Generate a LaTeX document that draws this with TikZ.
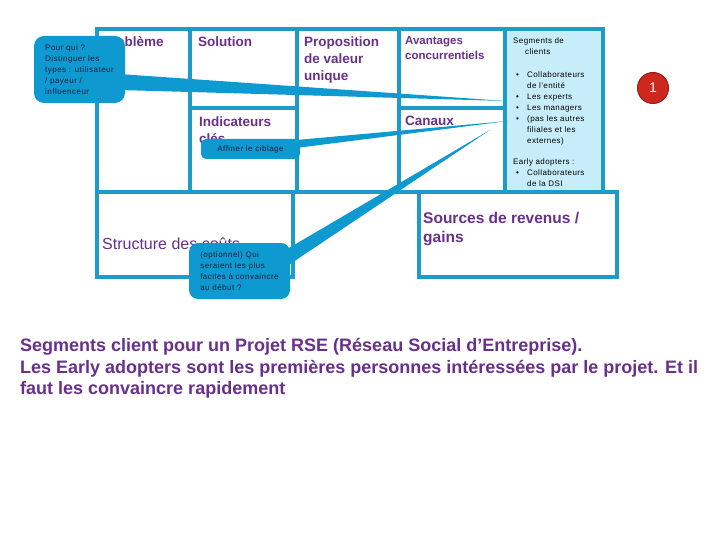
\documentclass[tikz,border=0pt]{standalone}
\usepackage{fontspec}
\setmainfont{Liberation Sans}
\usetikzlibrary{calc}
\definecolor{frame}{RGB}{30,155,200}
\definecolor{callout}{RGB}{14,154,208}
\definecolor{segfill}{RGB}{200,237,250}
\definecolor{purp}{RGB}{104,48,140}
\definecolor{calltxt}{RGB}{20,30,60}
\definecolor{redc}{RGB}{205,40,30}
\definecolor{redd}{RGB}{160,25,20}
\begin{document}
\begin{tikzpicture}[x=1pt,y=-1pt,
  frm/.style={draw=frame,line width=3.5pt},
  hdr/.style={anchor=base west,inner sep=0pt,text=purp,font=\bfseries\fontsize{13.5}{17}\selectfont},
  big/.style={anchor=base west,inner sep=0pt,text=purp,font=\fontsize{16}{19}\selectfont},
  segtxt/.style={anchor=base west,inner sep=0pt,text=black,font=\fontsize{8}{11}\selectfont\addfontfeatures{LetterSpace=5}},
  bubble/.style={fill=callout,text=calltxt,font=\fontsize{8}{11}\selectfont\addfontfeatures{LetterSpace=6},align=left,inner sep=0pt},
  tail/.style={fill=callout},
  note/.style={anchor=base west,inner sep=0pt,text=purp,font=\bfseries\fontsize{18}{22}\selectfont},
]
\useasboundingbox (0,0) rectangle (720,540);
\fill[white] (0,0) rectangle (720,540);
% canvas
\fill[segfill] (505,29) rectangle (603,192);
\draw[frm] (97,29) rectangle (603,192);
\draw[frm] (190,29) -- (190,192);
\draw[frm] (297,29) -- (297,192);
\draw[frm] (399,29) -- (399,192);
\draw[frm] (505,29) -- (505,192);
\draw[frm] (190,108) -- (297,108);
\draw[frm] (399,108) -- (505,108);
\draw[frm] (97,192) rectangle (293,277);
\draw[frm] (419,192) rectangle (617,277);
% headers
\node[hdr] (prob) at (102,47) {Problème};
\node[hdr] (sol) at (198,47) {Solution};
\node[hdr] (ind) at (199,127) {\vtop{\hbox{Indicateurs}\hbox{clés}}};
\node[hdr] (prop) at (304,47) {\vtop{\hbox{Proposition}\hbox{de valeur}\hbox{unique}}};
\node[hdr,font=\bfseries\fontsize{11.5}{14.5}\selectfont] (avant) at (405,45) {\vtop{\hbox{Avantages}\hbox{concurrentiels}}};
\node[hdr] (can) at (405,126) {Canaux};
\node[big] (struct) at (102,249) {Structure des coûts};
\node[big,font=\bfseries\fontsize{15.5}{19}\selectfont] (src) at (423,224) {\vtop{\hbox{Sources de revenus /}\hbox{gains}}};
% segments
\node[segtxt] (seghead) at (513,44) {\vtop{\hbox{Segments de}\hbox{\hspace*{12pt}clients}}};
\node[segtxt] (seglist) at (516,78) {\vtop{%
  \hbox{\makebox[11pt][l]{•}Collaborateurs}%
  \hbox{\hspace*{11pt}de l’entité}%
  \hbox{\makebox[11pt][l]{•}Les experts}%
  \hbox{\makebox[11pt][l]{•}Les managers}%
  \hbox{\makebox[11pt][l]{•}(pas les autres}%
  \hbox{\hspace*{11pt}filiales et les}%
  \hbox{\hspace*{11pt}externes)}}};
\node[segtxt] (early) at (513,165) {\vtop{%
  \hbox{Early adopters :}%
  \hbox{\hspace*{3pt}\makebox[11pt][l]{•}Collaborateurs}%
  \hbox{\hspace*{14pt}de la DSI}}};
% red badge
\node[circle,fill=redc,draw=redd,line width=1pt,minimum size=31pt,inner sep=0pt,text=white,font=\fontsize{14}{14}\selectfont] (badge) at (653,88) {1};
% callouts
\coordinate (t1) at (506,101);
\coordinate (t2) at (508,121);
\coordinate (t3) at (490,130);
\node[bubble,rounded corners=10pt,minimum width=91pt,minimum height=67pt] (c1) at (79.5,69.5)
  {Pour qui ?\\Distinguer les\\types : utilisateur\\/ payeur /\\influenceur};
\fill[tail] ($(c1.east)+(-6,4.5)$) -- ($(c1.east)+(-6,20.5)$) -- (t1) -- cycle;
\node[bubble,rounded corners=5pt,minimum width=99pt,minimum height=20pt] (c2) at (250.5,149)
  {Affiner le ciblage};
\fill[tail] ($(c2.east)+(-4,-9)$) -- ($(c2.east)+(-4,-1)$) -- (t2) -- cycle;
\node[bubble,rounded corners=9pt,minimum width=101pt,minimum height=56pt] (c3) at (239.5,271)
  {(optionnel) Qui\\seraient les plus\\faciles à convaincre\\au début ?};
\fill[tail] ($(c3.east)+(-3,-22)$) -- ($(c3.east)+(-3,-5)$) -- (t3) -- cycle;
% bottom note
\node[note] (n1) at (20,351) {Segments client pour un Projet RSE (Réseau Social d’Entreprise).};
\node[note] (n2) at (20,373) {Les Early adopters sont les premières personnes intéressées par le projet. Et il};
\node[note] (n3) at (20,394) {faut les convaincre rapidement};
\end{tikzpicture}
\end{document}
